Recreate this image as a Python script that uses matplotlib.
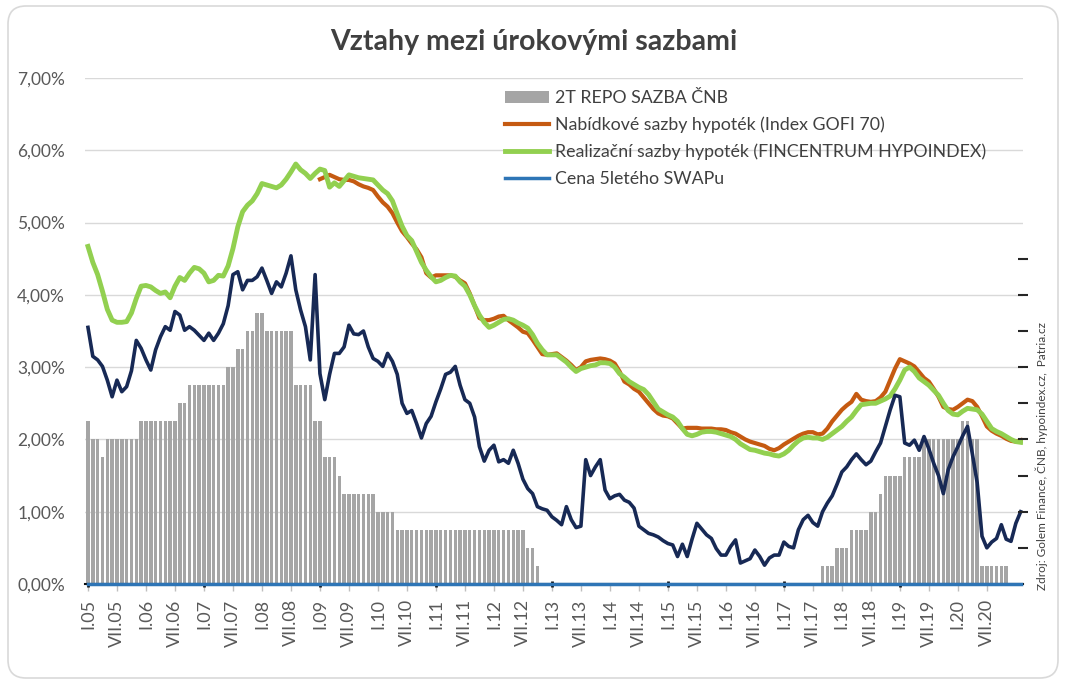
import matplotlib.pyplot as plt
import numpy as np
from matplotlib.patches import FancyBboxPatch

plt.rcParams['font.family'] = ['Lato', 'DejaVu Sans']

# monthly data, first value = I.05
repo = [
    2.25, 2.0, 2.0, 1.75, 2.0, 2.0, 2.0, 2.0, 2.0, 2.0, 2.0, 2.25,
    2.25, 2.25, 2.25, 2.25, 2.25, 2.25, 2.25, 2.5, 2.5, 2.75, 2.75, 2.75,
    2.75, 2.75, 2.75, 2.75, 2.75, 3.0, 3.0, 3.25, 3.25, 3.5, 3.5, 3.75,
    3.75, 3.5, 3.5, 3.5, 3.5, 3.5, 3.5, 2.75, 2.75, 2.75, 2.75, 2.25,
    2.25, 1.75, 1.75, 1.75, 1.5, 1.25, 1.25, 1.25, 1.25, 1.25, 1.25, 1.25,
    1.0, 1.0, 1.0, 1.0, 0.75, 0.75, 0.75, 0.75, 0.75, 0.75, 0.75, 0.75,
    0.75, 0.75, 0.75, 0.75, 0.75, 0.75, 0.75, 0.75, 0.75, 0.75, 0.75, 0.75,
    0.75, 0.75, 0.75, 0.75, 0.75, 0.75, 0.75, 0.5, 0.5, 0.25, 0.0, 0.0,
    0.0, 0.0, 0.0, 0.0, 0.0, 0.0, 0.0, 0.0, 0.0, 0.0, 0.0, 0.0,
    0.0, 0.0, 0.0, 0.0, 0.0, 0.0, 0.0, 0.0, 0.0, 0.0, 0.0, 0.0,
    0.0, 0.0, 0.0, 0.0, 0.0, 0.0, 0.0, 0.0, 0.0, 0.0, 0.0, 0.0,
    0.0, 0.0, 0.0, 0.0, 0.0, 0.0, 0.0, 0.0, 0.0, 0.0, 0.0, 0.0,
    0.0, 0.0, 0.0, 0.0, 0.0, 0.0, 0.0, 0.0, 0.25, 0.25, 0.25, 0.5,
    0.5, 0.5, 0.75, 0.75, 0.75, 0.75, 1.0, 1.0, 1.25, 1.5, 1.5, 1.5,
    1.5, 1.75, 1.75, 1.75, 1.75, 2.0, 2.0, 2.0, 2.0, 2.0, 2.0, 2.0,
    2.0, 2.25, 2.25, 2.0, 2.0, 0.25, 0.25, 0.25, 0.25, 0.25, 0.25, 0.0,
    0.0, 0.0,
]

# Index GOFI 70, first value = I.09
gofi = [
    5.60, 5.63, 5.66, 5.63, 5.60, 5.59, 5.59, 5.57, 5.53, 5.50, 5.48, 5.45,
    5.36, 5.28, 5.22, 5.13, 5.00, 4.88, 4.80, 4.71, 4.63, 4.52, 4.30, 4.24,
    4.27, 4.27, 4.27, 4.27, 4.25, 4.20, 4.16, 4.02, 3.85, 3.68, 3.65, 3.65,
    3.67, 3.70, 3.71, 3.65, 3.60, 3.55, 3.49, 3.47, 3.38, 3.28, 3.18, 3.17,
    3.18, 3.19, 3.14, 3.09, 3.03, 2.96, 3.00, 3.08, 3.10, 3.11, 3.12, 3.11,
    3.09, 3.05, 2.94, 2.80, 2.76, 2.70, 2.66, 2.58, 2.50, 2.42, 2.36, 2.33,
    2.32, 2.29, 2.22, 2.15, 2.16, 2.16, 2.16, 2.15, 2.15, 2.15, 2.14, 2.14,
    2.13, 2.10, 2.08, 2.04, 2.00, 1.97, 1.95, 1.93, 1.91, 1.87, 1.85, 1.88,
    1.93, 1.97, 2.01, 2.05, 2.08, 2.10, 2.10, 2.07, 2.08, 2.15, 2.25, 2.33,
    2.41, 2.47, 2.52, 2.63, 2.55, 2.53, 2.52, 2.53, 2.58, 2.66, 2.82, 2.98,
    3.11, 3.08, 3.05, 3.01, 2.93, 2.85, 2.80, 2.70, 2.59, 2.45, 2.42, 2.41,
    2.45, 2.50, 2.55, 2.53, 2.45, 2.32, 2.18, 2.12, 2.08, 2.05, 2.01, 1.98,
    1.97, 1.99,
]

# FINCENTRUM HYPOINDEX, first value = I.05
hypoindex = [
    4.67, 4.45, 4.28, 4.05, 3.80, 3.65, 3.62, 3.62, 3.63, 3.75, 3.95, 4.12,
    4.13, 4.11, 4.06, 4.02, 4.04, 3.96, 4.12, 4.24, 4.20, 4.30, 4.38, 4.36,
    4.30, 4.18, 4.20, 4.27, 4.26, 4.40, 4.64, 4.94, 5.15, 5.24, 5.30, 5.40,
    5.54, 5.52, 5.50, 5.48, 5.52, 5.60, 5.70, 5.81, 5.73, 5.68, 5.61, 5.68,
    5.74, 5.72, 5.49, 5.55, 5.50, 5.58, 5.66, 5.64, 5.62, 5.61, 5.60, 5.59,
    5.52, 5.45, 5.40, 5.30, 5.12, 4.95, 4.82, 4.75, 4.60, 4.45, 4.34, 4.25,
    4.18, 4.20, 4.24, 4.27, 4.26, 4.18, 4.12, 4.00, 3.85, 3.72, 3.62, 3.55,
    3.58, 3.62, 3.66, 3.67, 3.65, 3.61, 3.58, 3.54, 3.45, 3.33, 3.24, 3.17,
    3.17, 3.17, 3.12, 3.07, 3.00, 2.94, 2.98, 3.00, 3.02, 3.03, 3.06, 3.06,
    3.05, 3.00, 2.91, 2.86, 2.80, 2.76, 2.72, 2.69, 2.62, 2.52, 2.42, 2.38,
    2.34, 2.31, 2.25, 2.15, 2.07, 2.05, 2.07, 2.10, 2.11, 2.11, 2.10, 2.08,
    2.06, 2.04, 2.00, 1.94, 1.90, 1.86, 1.85, 1.83, 1.81, 1.80, 1.78, 1.77,
    1.80, 1.85, 1.92, 1.98, 2.02, 2.03, 2.02, 2.02, 2.00, 2.03, 2.08, 2.13,
    2.18, 2.25, 2.31, 2.40, 2.48, 2.49, 2.50, 2.50, 2.53, 2.56, 2.60, 2.70,
    2.82, 2.96, 3.00, 2.94, 2.85, 2.80, 2.75, 2.68, 2.61, 2.50, 2.40, 2.35,
    2.34, 2.39, 2.43, 2.42, 2.41, 2.35, 2.25, 2.15, 2.11, 2.08, 2.04, 2.00,
    1.97, 1.96,
]

# 5Y swap (dark line), first value = I.05
swap = [
    3.55, 3.15, 3.10, 3.01, 2.82, 2.59, 2.82, 2.66, 2.73, 2.95, 3.37, 3.26,
    3.10, 2.96, 3.24, 3.42, 3.56, 3.51, 3.77, 3.72, 3.51, 3.56, 3.51, 3.44,
    3.37, 3.47, 3.37, 3.47, 3.60, 3.85, 4.28, 4.32, 4.07, 4.20, 4.20, 4.25,
    4.37, 4.20, 4.02, 4.18, 4.11, 4.30, 4.54, 4.07, 3.79, 3.56, 3.10, 4.28,
    2.91, 2.55, 2.90, 3.19, 3.19, 3.28, 3.58, 3.46, 3.45, 3.50, 3.28, 3.12,
    3.08, 3.01, 3.19, 3.08, 2.90, 2.50, 2.36, 2.40, 2.22, 2.02, 2.22, 2.32,
    2.52, 2.70, 2.90, 2.93, 3.01, 2.75, 2.55, 2.50, 2.31, 1.90, 1.70, 1.85,
    1.92, 1.69, 1.72, 1.67, 1.85, 1.67, 1.45, 1.32, 1.25, 1.07, 1.04, 1.02,
    0.93, 0.88, 0.82, 1.07, 0.89, 0.78, 0.80, 1.72, 1.50, 1.62, 1.72, 1.30,
    1.18, 1.22, 1.24, 1.16, 1.13, 1.05, 0.80, 0.75, 0.70, 0.68, 0.65, 0.60,
    0.56, 0.54, 0.38, 0.55, 0.38, 0.62, 0.84, 0.76, 0.68, 0.63, 0.49, 0.40,
    0.40, 0.52, 0.61, 0.29, 0.32, 0.35, 0.47, 0.38, 0.26, 0.36, 0.40, 0.40,
    0.58, 0.52, 0.50, 0.75, 0.89, 0.95, 0.85, 0.80, 1.00, 1.12, 1.22, 1.38,
    1.55, 1.62, 1.72, 1.80, 1.72, 1.65, 1.70, 1.83, 1.95, 2.18, 2.41, 2.61,
    2.59, 1.95, 1.92, 1.99, 1.85, 2.04, 1.87, 1.67, 1.50, 1.25, 1.58, 1.76,
    1.90, 2.05, 2.18, 1.80, 1.40, 0.66, 0.50, 0.58, 0.63, 0.82, 0.62, 0.59,
    0.84, 1.00,
]

# legend series "Cena 5letého SWAPu" sits on zero in the source chart
swap_zero = [0.0] * len(swap)

labels = ['2T REPO SAZBA ČNB', 'Nabídkové sazby hypoték (Index GOFI 70)',
          'Realizační sazby hypoték (FINCENTRUM HYPOINDEX)', 'Cena 5letého SWAPu']

months = np.arange(len(repo))
gofi_x = months[len(months) - len(gofi):]
tick_months = np.arange(0, 187, 6)
tick_labels = [('I.' if m % 12 == 0 else 'VII.') + '%02d' % ((5 + m // 12) % 100)
               for m in tick_months]

fig = plt.figure(figsize=(10.68, 6.86), dpi=100)
fig.patches.append(FancyBboxPatch((0.08, 0.08), 10.50, 6.72,
                                  boxstyle='round,pad=0,rounding_size=0.18',
                                  transform=fig.dpi_scale_trans,
                                  fc='white', ec='#D9D9D9', lw=1.2, zorder=-1))

ax = fig.add_axes([0.0792, 0.1487, 0.8783, 0.7376])
ax.set_facecolor('none')

bars = ax.bar(months, repo, width=0.72, color='#A5A5A5', zorder=2)
l_gofi, = ax.plot(gofi_x, gofi, color='#C55A11', lw=3, zorder=3)
l_hypo, = ax.plot(months, hypoindex, color='#92D050', lw=3.5, zorder=4)
ax.plot(months, swap, color='#172955', lw=2.6, zorder=4)
l_swap, = ax.plot(months, swap_zero, color='#2E75B6', lw=2.5, zorder=6,
                  clip_on=False)

ax.set_xlim(-0.7, 193.4)
ax.set_ylim(0, 7)
ax.set_yticks(np.arange(0, 8, 1))
ax.set_yticklabels([('%.2f' % v).replace('.', ',') + '%' for v in range(8)])
ax.yaxis.grid(True, color='#D9D9D9', lw=1)
ax.set_axisbelow(True)
ax.tick_params(axis='y', length=0, pad=14, labelsize=12.5, labelcolor='#595959')

ax.set_xticks(tick_months)
ax.set_xticklabels(tick_labels, rotation=90)
ax.set_xticks(np.arange(0, 169, 24), minor=True)
ax.xaxis.remove_overlapping_locs = False
ax.tick_params(axis='x', which='major', length=5, color='#BFBFBF', width=1,
               labelsize=13, labelcolor='#595959', pad=6)
ax.tick_params(axis='x', which='minor', length=4, direction='inout',
               color='#0D0D0D', width=2)

for side in ['left', 'right', 'top']:
    ax.spines[side].set_visible(False)
ax.spines['bottom'].set_color('#0D0D0D')
ax.spines['bottom'].set_linewidth(1.5)

# secondary axis ticks on the right (no labels)
ax2 = ax.twinx()
ax2.set_ylim(0, 7)
ax2.set_yticks(np.arange(0.5, 4.6, 0.5))
ax2.tick_params(axis='y', direction='inout', length=7, width=1.5,
                color='#262626', labelright=False)
for side in ['left', 'right', 'top', 'bottom']:
    ax2.spines[side].set_visible(False)

ax.legend([bars, l_gofi, l_hypo, l_swap], labels,
          loc='upper left', bbox_to_anchor=(505 / 1068, 1 - 90 / 686),
          bbox_transform=fig.transFigure, frameon=False, fontsize=12.8,
          handlelength=2.5, handletextpad=0.3, labelspacing=0.6,
          borderpad=0, borderaxespad=0, labelcolor='#404040')

fig.text(534 / 1068, 1 - 42 / 686, 'Vztahy mezi úrokovými sazbami',
         ha='center', va='center', fontsize=20.5, fontweight='bold', color='#404040')
fig.text(1042 / 1068, 1 - 590 / 686,
         'Zdroj: Golem Finance, ČNB, hypoindex.cz,  Patria.cz',
         rotation=90, ha='center', va='bottom', fontsize=8.5, color='#404040')

fig.savefig('out.png', dpi=100)
